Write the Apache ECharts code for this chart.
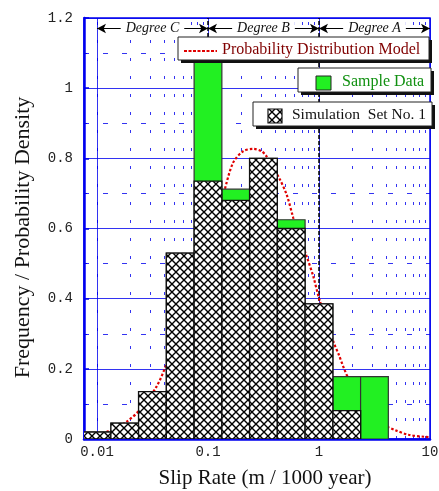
<!DOCTYPE html>
<html>
<head>
<meta charset="utf-8">
<script src="https://cdn.jsdelivr.net/npm/echarts@6/dist/echarts.min.js"></script>
<style>html,body{margin:0;padding:0;background:#fff;}#c{width:439px;height:491px;}</style>
</head>
<body>
<div id="c"></div>
<script>
// ---- data ----
const binCenters = [0.01, 0.0178, 0.0316, 0.0562, 0.1, 0.178, 0.316, 0.562, 1, 1.78, 3.16];
const simulationValues = [0.02, 0.045, 0.135, 0.53, 0.735, 0.68, 0.80, 0.60, 0.385, 0.081, 0];
const sampleValues = [0.02, 0.045, 0.135, 0.53, 1.08, 0.712, 0.80, 0.625, 0.385, 0.178, 0.178];
const binWidthDecades = 0.25;

const curveX = [0.0077, 0.01, 0.0133, 0.0186, 0.0244, 0.0345, 0.0428, 0.056, 0.075, 0.1, 0.12, 0.139, 0.168, 0.207, 0.256, 0.305, 0.338, 0.436, 0.512, 0.587, 0.63, 0.775, 0.889, 1.02, 1.2, 1.36, 1.51, 1.67, 1.86, 2.13, 2.45, 2.81, 3.33, 3.96, 4.87, 6.41, 9.06, 10];
const curveY = [0.005, 0.012, 0.025, 0.05, 0.0835, 0.15, 0.217, 0.31, 0.43, 0.55, 0.63, 0.702, 0.787, 0.82, 0.827, 0.82, 0.805, 0.745, 0.696, 0.63, 0.60, 0.52, 0.463, 0.392, 0.33, 0.274, 0.24, 0.203, 0.169, 0.136, 0.107, 0.079, 0.057, 0.038, 0.025, 0.012, 0.006, 0.005];

const xTickLabels = [0.01, 0.1, 1, 10];
const minorXValues = [0.008, 0.009, 0.02, 0.03, 0.04, 0.05, 0.06, 0.07, 0.08, 0.09, 0.2, 0.3, 0.4, 0.5, 0.6, 0.7, 0.8, 0.9, 2, 3, 4, 5, 6, 7, 8, 9];
const degreeBounds = [0.01, 0.1, 1, 10];
const degreeNames = ['Degree C', 'Degree B', 'Degree A'];
const degreeLevel = 1.17;

const BLUE = '#0000ee';
const SERIF = '"Liberation Serif", "Times New Roman", serif';
const MONO = '"Liberation Mono", "Courier New", monospace';

// cross-hatch pattern
const hatch = document.createElement('canvas');
hatch.width = 8; hatch.height = 8;
(function () {
  const g = hatch.getContext('2d');
  g.fillStyle = '#fff'; g.fillRect(0, 0, 8, 8);
  g.strokeStyle = '#000'; g.lineWidth = 1.4;
  g.beginPath();
  g.moveTo(-1, -1); g.lineTo(9, 9);
  g.moveTo(9, -1); g.lineTo(-1, 9);
  g.stroke();
})();
const hatchFill = { image: hatch, repeat: 'repeat' };

function barRender(fill, stroke, lw) {
  return function (params, api) {
    const c = api.value(0), v = api.value(1);
    if (!v) return null;
    const half = Math.pow(10, binWidthDecades / 2);
    const p0 = api.coord([c / half, v]);
    const p1 = api.coord([c * half, 0]);
    return {
      type: 'rect',
      shape: { x: p0[0], y: p0[1], width: p1[0] - p0[0], height: p1[1] - p0[1] },
      style: { fill: fill, stroke: stroke, lineWidth: lw }
    };
  };
}

const chart = echarts.init(document.getElementById('c'), null, { renderer: 'canvas' });

const degreeLines = degreeNames.map((n, i) => [
  { coord: [degreeBounds[i], degreeLevel], name: n },
  { coord: [degreeBounds[i + 1], degreeLevel] }
]);

chart.setOption({
  animation: false,
  backgroundColor: '#fff',
  grid: { left: 84, right: 9, top: 18, bottom: 52, show: true, borderColor: BLUE, borderWidth: 1.5, backgroundColor: 'transparent', containLabel: false, outerBoundsMode: 'none' },
  xAxis: {
    type: 'log', logBase: 10, min: 0.00764, max: 10,
    name: 'Slip Rate (m / 1000 year)', nameLocation: 'middle', nameGap: 29,
    nameTextStyle: { fontFamily: SERIF, fontSize: 21, color: '#111', padding: [0, 0, 0, 16] },
    axisLine: { show: true, lineStyle: { color: BLUE, width: 2.5 } },
    axisTick: { show: false },
    axisLabel: { showMinLabel: false, fontFamily: MONO, fontSize: 14, color: '#222', margin: 6 },
    splitLine: { show: true, lineStyle: { color: BLUE, width: 1, opacity: 0.8 } }
  },
  yAxis: {
    type: 'value', min: 0, max: 1.2, interval: 0.2,
    name: 'Frequency / Probability Density', nameLocation: 'middle', nameGap: 50,
    nameTextStyle: { fontFamily: SERIF, fontSize: 22, color: '#111', padding: [0, 18, 0, 0] },
    axisLine: { show: true, lineStyle: { color: BLUE, width: 2.5 } },
    axisTick: { show: true, inside: true, length: 5, lineStyle: { color: BLUE, width: 1.5 } },
    minorTick: { show: true, splitNumber: 2, length: 3, lineStyle: { color: BLUE } },
    minorSplitLine: { show: true, lineStyle: { color: BLUE, width: 1, type: [5, 14], opacity: 0.8 } },
    axisLabel: { fontFamily: MONO, fontSize: 14, color: '#222', margin: 11 },
    splitLine: { show: true, lineStyle: { color: BLUE, width: 1, opacity: 0.8 } }
  },
  series: [
    {
      type: 'line', name: 'grid', data: [], silent: true, z: 1,
      markLine: {
        z: 1, silent: true, symbol: 'none', animation: false, label: { show: false },
        lineStyle: { color: BLUE, width: 1, type: [3, 15], opacity: 0.8 },
        data: minorXValues.map(v => ({ xAxis: v }))
      }
    },
    {
      type: 'line', name: 'bounds', data: [], silent: true, z: 1,
      markLine: {
        z: 1, silent: true, symbol: 'none', animation: false, label: { show: false },
        lineStyle: { color: '#000', width: 1.5, type: [4, 2] },
        data: degreeBounds.slice(1, 3).map(v => ({ xAxis: v }))
      }
    },
    {
      type: 'line', name: 'Probability Distribution Model', z: 2,
      data: curveX.map((x, i) => [x, curveY[i]]),
      smooth: 0.3, showSymbol: false, symbol: 'none',
      lineStyle: { color: '#e00000', width: 2.2, type: [2.5, 2] }
    },
    {
      type: 'custom', name: 'Sample Data', z: 3, clip: true,
      data: binCenters.map((c, i) => [c, sampleValues[i]]),
      renderItem: barRender('#22f022', '#333', 1.2)
    },
    {
      type: 'custom', name: 'Simulation  Set No. 1', z: 4, clip: true,
      data: binCenters.map((c, i) => [c, simulationValues[i]]),
      renderItem: barRender(hatchFill, '#111', 1.3)
    },
    {
      type: 'line', name: 'degrees', data: [], silent: true, z: 6,
      markLine: {
        z: 6, silent: true, animation: false, symbol: ['arrow', 'arrow'], symbolSize: [7, 9],
        lineStyle: { color: '#000', width: 1, type: 'solid' },
        label: {
          show: true, position: 'middle', distance: 0, verticalAlign: 'middle', formatter: p => p.name,
          fontFamily: SERIF, fontStyle: 'italic', fontSize: 14, color: '#111',
          backgroundColor: '#fff', padding: [1, 5]
        },
        data: degreeLines
      }
    }
  ],
  graphic: [
    // legend box 1
    { type: 'rect', z: 100, shape: { x: 181, y: 40, width: 251, height: 23 }, style: { fill: '#111' } },
    { type: 'rect', z: 101, shape: { x: 178, y: 37, width: 251, height: 23 }, style: { fill: '#fff', stroke: '#222', lineWidth: 1 } },
    { type: 'line', z: 102, shape: { x1: 184, y1: 51, x2: 217, y2: 51 }, style: { stroke: '#e00000', lineWidth: 2, lineDash: [3, 1.5] } },
    { type: 'text', z: 102, x: 222, y: 49.5, style: { text: 'Probability Distribution Model', fontFamily: SERIF, fontSize: 16, fill: '#800000', verticalAlign: 'middle', align: 'left' } },
    // legend box 2
    { type: 'rect', z: 100, shape: { x: 301, y: 71, width: 133, height: 24 }, style: { fill: '#111' } },
    { type: 'rect', z: 101, shape: { x: 298, y: 68, width: 133, height: 24 }, style: { fill: '#fff', stroke: '#222', lineWidth: 1 } },
    { type: 'rect', z: 102, shape: { x: 316, y: 76, width: 15, height: 14 }, style: { fill: '#22f022', stroke: '#222', lineWidth: 1 } },
    { type: 'text', z: 102, x: 342, y: 82, style: { text: 'Sample Data', fontFamily: SERIF, fontSize: 16, fill: '#109010', verticalAlign: 'middle', align: 'left' } },
    // legend box 3
    { type: 'rect', z: 100, shape: { x: 256, y: 105, width: 179, height: 24 }, style: { fill: '#111' } },
    { type: 'rect', z: 101, shape: { x: 253, y: 102, width: 179, height: 24 }, style: { fill: '#fff', stroke: '#222', lineWidth: 1 } },
    { type: 'rect', z: 102, shape: { x: 268, y: 109, width: 14, height: 14 }, style: { fill: hatchFill, stroke: '#111', lineWidth: 1.2 } },
    { type: 'text', z: 102, x: 292, y: 115, style: { text: 'Simulation  Set No. 1', fontFamily: SERIF, fontSize: 15.5, fill: '#111', verticalAlign: 'middle', align: 'left' } }
  ]
});
</script>
</body>
</html>
